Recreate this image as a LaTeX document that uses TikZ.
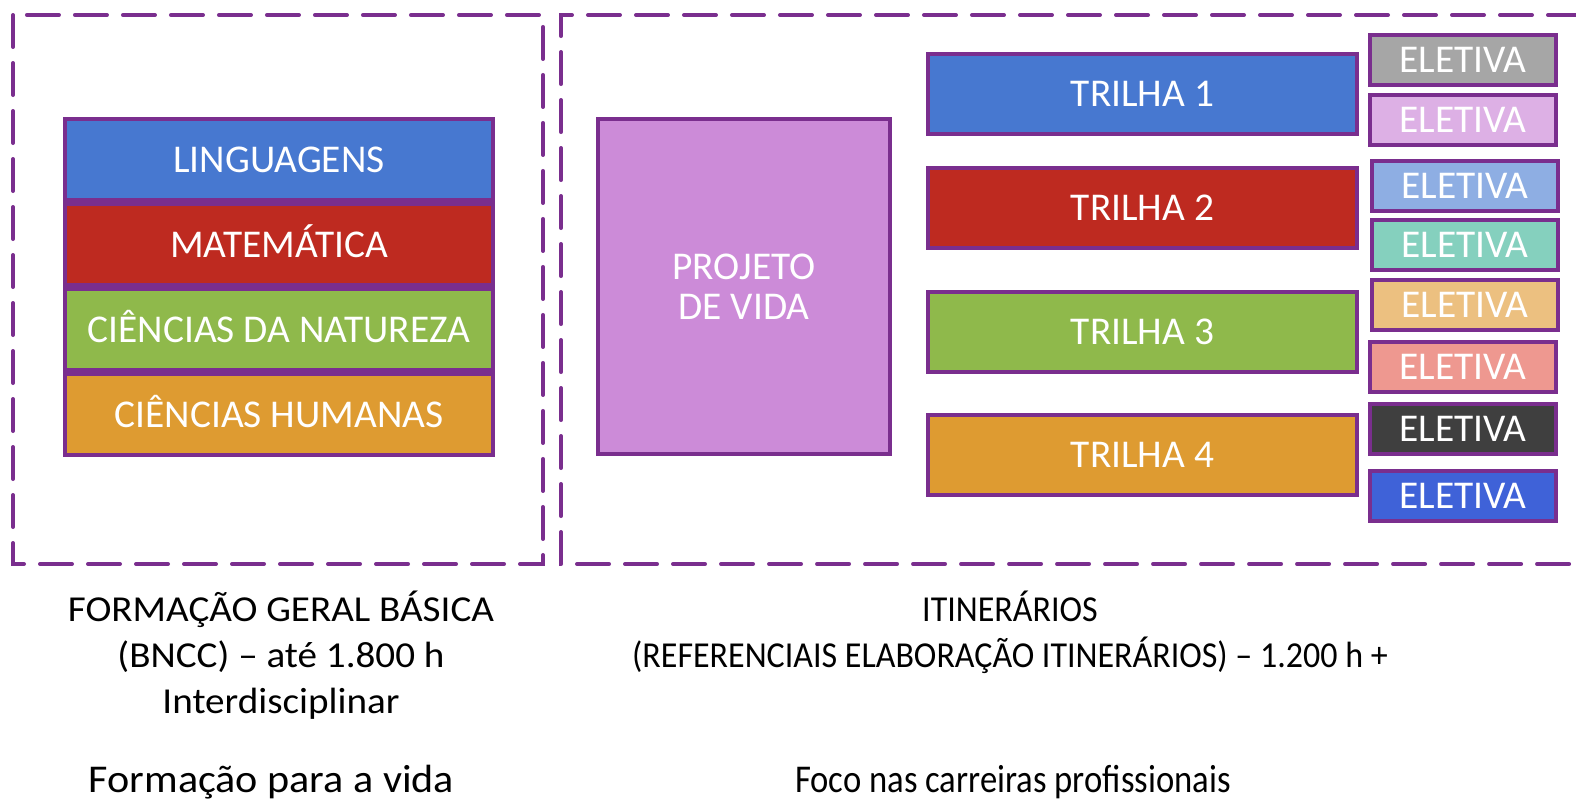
\documentclass[tikz,border=0pt]{standalone}
\usepackage{fontspec}
\setmainfont{Carlito}
\newfontfamily\larga[FakeStretch=1.07]{Carlito}
\newfontfamily\estreita[FakeStretch=0.93]{Carlito}
\newfontfamily\apertada[FakeStretch=0.88]{Carlito}
\usetikzlibrary{positioning}

\definecolor{borda}{HTML}{7A2E8E}
\definecolor{azul}{HTML}{4778D0}
\definecolor{vermelho}{HTML}{BE2A20}
\definecolor{verde}{HTML}{8FB94B}
\definecolor{laranja}{HTML}{DE9B31}
\definecolor{projeto}{HTML}{CC8BD8}
\definecolor{cinza}{HTML}{A6A6A6}
\definecolor{lilas}{HTML}{DDB0E5}
\definecolor{celeste}{HTML}{8EAEE3}
\definecolor{turquesa}{HTML}{85D0BE}
\definecolor{areia}{HTML}{ECC080}
\definecolor{salmao}{HTML}{EE9890}
\definecolor{grafite}{HTML}{3F3F3F}
\definecolor{anil}{HTML}{3F62D8}

\begin{document}
\begin{tikzpicture}[x=0.25mm,y=-0.25mm,
  caixa/.style={draw=borda,line width=1mm,text=white,inner sep=0pt,
    font=\fontsize{28}{29}\selectfont},
  bloco/.style={caixa,minimum width=107mm,minimum height=20.25mm,
    text height=18pt,text depth=0pt},
  trilha/.style={caixa,minimum width=107.25mm,minimum height=20mm,
    text height=18pt,text depth=0pt},
  eletiva/.style={caixa,minimum width=46.5mm,minimum height=12.5mm,
    text height=18pt,text depth=0pt},
  area/.style={draw=borda,line width=1mm,dash pattern=on 8mm off 4mm,line cap=round},
  legenda/.style={align=center,font=\larga\fontsize{26}{32.7}\selectfont},
  destaque/.style={anchor=base,font=\larga\fontsize{28}{30}\selectfont}]
\useasboundingbox (0,0) rectangle (1576,805);

% areas tracejadas
\draw[area] (13,15) rectangle (543,564);
\draw[area] (1580,15) -- (561,15) -- (561,564) -- (1580,564);

% formacao geral basica
\begin{scope}[node distance=0pt]
\node[bloco,fill=azul] (ling) at (279,159.5) {LINGUAGENS};
\node[bloco,fill=vermelho,below=of ling] (mat) {MATEMÁTICA};
\node[bloco,fill=verde,below=of mat] (cn) {CIÊNCIAS DA NATUREZA};
\node[bloco,fill=laranja,below=of cn] (ch) {CIÊNCIAS HUMANAS};
\end{scope}

% itinerarios
\node[caixa,fill=projeto,minimum width=73mm,minimum height=83.75mm,align=center,
  font=\fontsize{28}{28.3}\selectfont] (pv) at (744,286.5) {PROJETO\\DE VIDA};

\node[trilha,fill=azul] (t1) at (1142.5,94) {TRILHA 1};
\node[trilha,fill=vermelho] (t2) at (1142.5,208) {TRILHA 2};
\node[trilha,fill=verde] (t3) at (1142.5,332) {TRILHA 3};
\node[trilha,fill=laranja] (t4) at (1142.5,455) {TRILHA 4};

\node[eletiva,fill=cinza] (e1) at (1463,60) {ELETIVA};
\node[eletiva,fill=lilas] (e2) at (1463,120) {ELETIVA};
\node[eletiva,fill=celeste] (e3) at (1465,186) {ELETIVA};
\node[eletiva,fill=turquesa] (e4) at (1465,245) {ELETIVA};
\node[eletiva,fill=areia] (e5) at (1465,305) {ELETIVA};
\node[eletiva,fill=salmao] (e6) at (1463,367) {ELETIVA};
\node[eletiva,fill=grafite] (e7) at (1463,429) {ELETIVA};
\node[eletiva,fill=anil] (e8) at (1463,495.5) {ELETIVA};

% legendas
\node[legenda] (fgb) at (281,655) {FORMAÇÃO GERAL BÁSICA\\(BNCC) – até 1.800 h\\Interdisciplinar};
\node[legenda,font=\estreita\fontsize{26}{32.7}\selectfont] (itin) at (1010,632.5)
  {ITINERÁRIOS\\(REFERENCIAIS ELABORAÇÃO ITINERÁRIOS) – 1.200 h +};
\node[destaque] (vida) at (271.5,792) {Formação para a vida};
\node[destaque,font=\apertada\fontsize{28}{30}\selectfont] (foco) at (1013,792) {Foco nas carreiras profissionais};
\end{tikzpicture}
\end{document}
